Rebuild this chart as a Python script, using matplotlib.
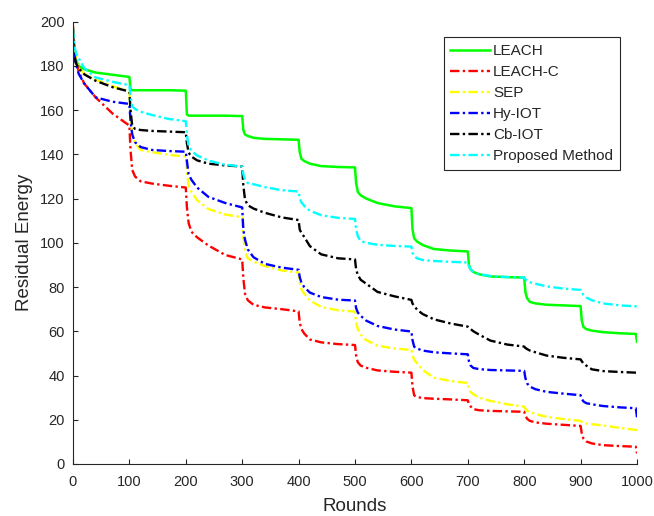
import numpy as np
import matplotlib
matplotlib.use("Agg")
import matplotlib.pyplot as plt

plt.rcParams["font.family"] = ["Liberation Sans", "DejaVu Sans"]

# ── Data ─────────────────────────────────────────────────
rounds = [0, 2, 5, 10, 20, 40, 70,
          100, 102, 105, 110, 120, 140, 170,
          200, 202, 205, 210, 220, 240, 270,
          300, 302, 305, 310, 320, 340, 370,
          400, 402, 405, 410, 420, 440, 470,
          500, 502, 505, 510, 520, 540, 570,
          600, 602, 605, 610, 620, 640, 670,
          700, 702, 705, 710, 720, 740, 770,
          800, 802, 805, 810, 820, 840, 870,
          900, 902, 905, 910, 920, 940, 970,
          998, 1000]

leach = [197, 190, 183, 180, 178.5, 177, 176,
         175, 169.5, 169, 169, 169, 169, 169,
         168.8, 158, 157.5, 157.5, 157.5, 157.5, 157.5,
         157.3, 151, 149, 148.3, 147.5, 147, 146.8,
         146.6, 141, 138, 137, 135.8, 134.7, 134.3,
         134.1, 127, 123, 121.5, 120, 118, 116.5,
         115.7, 106, 102, 100.6, 99, 97.2, 96.5,
         96.1, 90, 88, 86.8, 85.8, 84.8, 84.5,
         84.3, 78, 75, 73.3, 72.6, 72, 71.7,
         71.4, 65, 62, 61, 60.3, 59.6, 59.1,
         58.8, 55.3]

leach_c = [198, 190, 183, 177.5, 172, 165.8, 158.5,
           153, 142, 133, 130, 127.8, 126.8, 125.8,
           125, 116, 109, 105, 102.5, 98.8, 94.5,
           92.5, 84, 77, 74, 72, 70.8, 70,
           69, 64, 61, 59, 56.3, 55, 54.2,
           53.8, 49, 46, 44.5, 43.5, 42.3, 41.7,
           41.3, 35, 31, 30.3, 29.8, 29.5, 29.2,
           28.8, 27, 26, 24.8, 24.3, 24, 23.8,
           23.6, 22, 20.5, 19.5, 18.8, 18.2, 17.7,
           17.2, 14, 11.5, 10.2, 9.3, 8.5, 8.1,
           7.8, 4.8]

sep = [195, 189, 183, 179, 176.5, 173.8, 170.8,
       168.6, 158, 150, 145, 142, 141, 139.8,
       139, 132, 126, 123, 119.3, 115.3, 112.8,
       111.6, 103, 96, 93, 91.5, 89.5, 87.5,
       86.5, 82, 79, 77, 74, 71, 69.5,
       68.9, 64, 61, 58.5, 56, 53.5, 52.2,
       51.6, 49, 47, 45.6, 42.5, 39, 37.5,
       36.6, 34, 32.5, 31.5, 30, 28.5, 27,
       25.9, 25, 24, 23.5, 22.6, 21.3, 20.3,
       19.5, 19, 18.5, 18.3, 18, 17.4, 16.3,
       15.4, 15.3]

hy_iot = [194, 186, 181, 176.5, 172, 165.8, 163.8,
          162.8, 155, 149, 145.5, 143.3, 142, 141.5,
          141.2, 137, 131, 128.5, 125, 120.8, 118,
          116, 106, 101.4, 97, 93.5, 90.5, 88.8,
          87.8, 84.5, 82, 80, 77.5, 75.5, 74.3,
          73.9, 70.5, 68.5, 67, 64.8, 62.4, 60.8,
          59.9, 56, 53, 52.2, 51.3, 50.5, 50,
          49.6, 46.5, 44.5, 43.4, 42.9, 42.5, 42.3,
          42.1, 39, 36.5, 35, 33.8, 32.6, 31.8,
          31.1, 29.5, 28.3, 27.5, 27, 26.2, 25.6,
          25.2, 21.1]

cb_iot = [192, 186, 181.3, 179, 176.2, 173.3, 170.4,
          168.4, 160, 153, 151.5, 151, 150.6, 150.3,
          150, 145, 140.8, 139, 137.3, 135.8, 135,
          134.5, 126, 119.5, 117, 115.5, 113.6, 111.5,
          110.3, 106, 104.5, 102.7, 98.5, 94.8, 93,
          92.5, 88, 85.5, 83.3, 81.5, 77.8, 75.8,
          74.2, 72.5, 71.5, 69.8, 67.8, 65.4, 63.5,
          62.1, 61.5, 61, 60, 58.5, 55.8, 54,
          53.1, 52.5, 52, 51.3, 50.5, 49, 48,
          47.3, 46.5, 45.5, 44.5, 42.8, 42, 41.6,
          41.3, 41.3]

proposed = [197, 190, 186, 183.5, 179, 174.8, 172.8,
            171.3, 166, 161.7, 160.5, 159.3, 157.8, 156,
            155, 149, 143.6, 141.7, 139.5, 137.2, 135.3,
            134.5, 131, 128.5, 127, 126.5, 125.2, 123.8,
            123.2, 120, 118.3, 116.7, 114.5, 112.5, 111.3,
            110.8, 106, 103, 100.8, 100, 99.1, 98.6,
            98.3, 95.5, 94, 93, 92.2, 91.8, 91.4,
            91.1, 89.5, 88, 86.8, 85.8, 85, 84.5,
            84.3, 83.5, 83, 82.2, 81.5, 80.3, 79.3,
            78.7, 77.5, 76.5, 75.3, 74, 72.6, 71.7,
            71.3, 71.2]

labels = ["LEACH", "LEACH-C", "SEP", "Hy-IOT", "Cb-IOT", "Proposed Method"]
series = [leach, leach_c, sep, hy_iot, cb_iot, proposed]
colors = ["#00ff00", "#ff0000", "#ffff00", "#0000ff", "#000000", "#00ffff"]

dark = "#262626"

fig = plt.figure(figsize=(6.54, 5.16), dpi=100)
ax = fig.add_axes([0.1116, 0.1008, 0.8624, 0.8572])

for i, (vals, lab, col) in enumerate(zip(series, labels, colors)):
    if i == 0:
        ax.plot(rounds, vals, color=col, lw=1.8, label=lab)
    else:
        ax.plot(rounds, vals, color=col, lw=1.7, label=lab,
                dashes=(4, 1.4, 1, 1.4))

ax.set_xlim(0, 1000)
ax.set_ylim(0, 200)
ax.set_xticks(np.arange(0, 1001, 100))
ax.set_yticks(np.arange(0, 201, 20))

for side in ("top", "right"):
    ax.spines[side].set_visible(False)
for side in ("left", "bottom"):
    ax.spines[side].set_color(dark)
    ax.spines[side].set_linewidth(0.8)

ax.tick_params(direction="in", length=3.5, width=0.8, colors=dark,
               labelsize=10.5)
ax.tick_params(axis="x", pad=8)
ax.tick_params(axis="y", pad=6)

ax.set_xlabel("Rounds", fontsize=13.5, color=dark, labelpad=6.5)
ax.set_ylabel("Residual Energy", fontsize=13.5, color=dark, labelpad=5)

leg = ax.legend(loc="upper right", bbox_to_anchor=(0.970, 0.965),
                borderaxespad=0, fontsize=11, fancybox=False,
                framealpha=1, edgecolor=dark, handlelength=2.6,
                handletextpad=0.2, labelspacing=0.46, borderpad=0.45)
leg.get_frame().set_linewidth(0.8)
for t in leg.get_texts():
    t.set_color(dark)

fig.savefig("out.png", dpi=100)
